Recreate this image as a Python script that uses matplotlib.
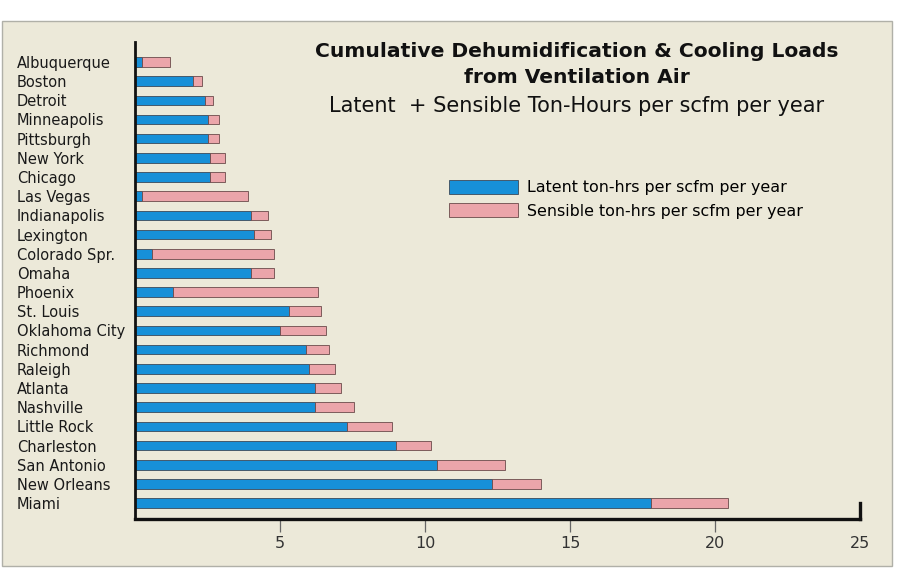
import matplotlib
matplotlib.use("Agg")
import matplotlib.pyplot as plt
from matplotlib.patches import Rectangle

plt.rcParams['font.family'] = ['DejaVu Sans']

cities = ["Albuquerque", "Boston", "Detroit", "Minneapolis", "Pittsburgh",
          "New York", "Chicago", "Las Vegas", "Indianapolis", "Lexington",
          "Colorado Spr.", "Omaha", "Phoenix", "St. Louis", "Oklahoma City",
          "Richmond", "Raleigh", "Atlanta", "Nashville", "Little Rock",
          "Charleston", "San Antonio", "New Orleans", "Miami"]
latent = [0.25, 2.0, 2.4, 2.5, 2.5, 2.6, 2.6, 0.25, 4.0, 4.1, 0.6, 4.0,
          1.3, 5.3, 5.0, 5.9, 6.0, 6.2, 6.2, 7.3, 9.0, 10.4, 12.3, 17.8]
total = [1.2, 2.3, 2.7, 2.9, 2.9, 3.1, 3.1, 3.9, 4.6, 4.7, 4.8, 4.8,
         6.3, 6.4, 6.6, 6.7, 6.9, 7.1, 7.55, 8.85, 10.2, 12.75, 14.0, 20.45]
sensible = [t - l for t, l in zip(total, latent)]
xticks = [5, 10, 15, 20, 25]

BLUE = "#1790d8"
PINK = "#eba5aa"
BG = "#ece9d9"

fig = plt.figure(figsize=(9, 5.78), dpi=100)
fig.patch.set_facecolor("white")
fig.patches.append(Rectangle((2/900, 1-566/578), 890/900, 545/578,
                             transform=fig.transFigure, facecolor=BG,
                             edgecolor="#b0b0a8", linewidth=1, zorder=-5))

ax = fig.add_axes([135/900, 1-519/578, 725/900, 477/578])
ax.patch.set_alpha(0)

y = list(range(len(cities)))
ax.barh(y, latent, height=0.5, color=BLUE, edgecolor="#3b4a5a", linewidth=0.6,
        label="Latent ton-hrs per scfm per year")
ax.barh(y, sensible, left=latent, height=0.5, color=PINK, edgecolor="#6a4a4a",
        linewidth=0.6, label="Sensible ton-hrs per scfm per year")

ax.set_xlim(0, 25)
ax.set_ylim(23.83, -1.04)

ax.set_yticks(y)
ax.set_yticklabels(cities, fontsize=10.5, color="#1a1a1a", ha="left")
ax.tick_params(axis="y", length=0, pad=85)

ax.set_xticks(xticks)
ax.set_xticklabels([str(v) for v in xticks], fontsize=11.5, color="#333333")
ax.tick_params(axis="x", direction="out", length=9, width=0.9, color="#666666", pad=3)
ax.xaxis.get_major_ticks()[-1].tick1line.set_visible(False)

ax.spines["top"].set_visible(False)
ax.spines["left"].set_linewidth(2)
ax.spines["bottom"].set_linewidth(2.4)
ax.spines["right"].set_linewidth(2.4)
ax.spines["right"].set_bounds(23.0, 23.83)
for s in ["left", "bottom", "right"]:
    ax.spines[s].set_color("#111111")

ax.text(0.609, 0.981, "Cumulative Dehumidification & Cooling Loads",
        transform=ax.transAxes, ha="center", va="center", fontsize=14.6,
        fontweight="bold", color="#111111")
ax.text(0.609, 0.925, "from Ventilation Air", transform=ax.transAxes,
        ha="center", va="center", fontsize=14.6, fontweight="bold", color="#111111")
ax.text(0.609, 0.865, "Latent  + Sensible Ton-Hours per scfm per year",
        transform=ax.transAxes, ha="center", va="center", fontsize=15,
        color="#111111")

ax.legend(loc="upper left", bbox_to_anchor=(0.433, 0.711), frameon=False,
          borderpad=0, borderaxespad=0, fontsize=11.4, handlelength=4.35,
          handleheight=1.0, handletextpad=0.57, labelspacing=0.5)

fig.savefig("out.png", dpi=100)
